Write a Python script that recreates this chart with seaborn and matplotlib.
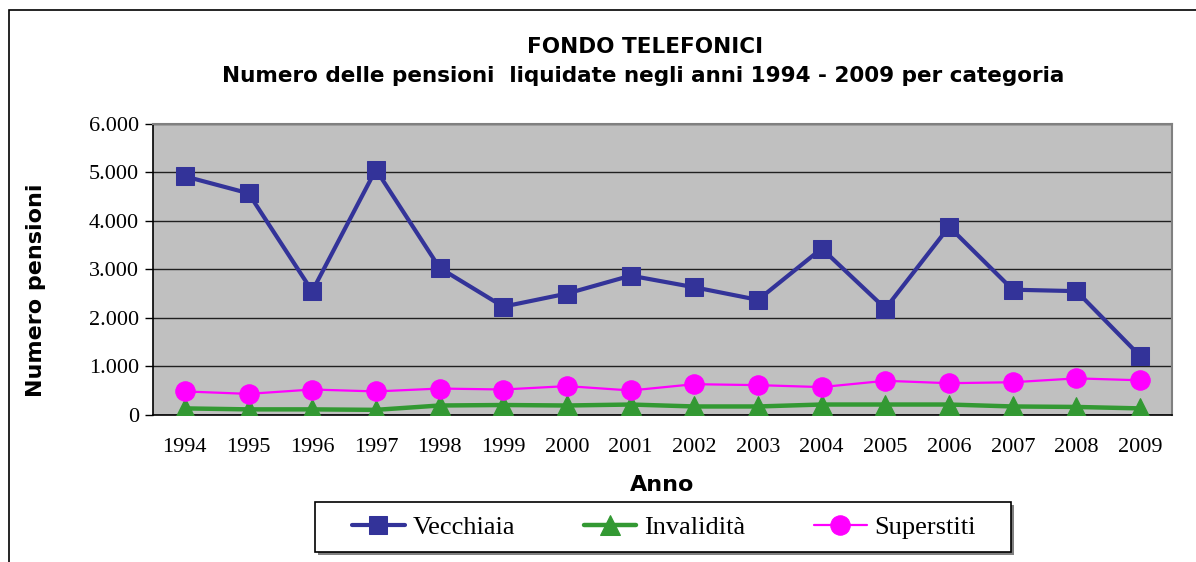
import numpy as np
import pandas as pd
import matplotlib
matplotlib.use("Agg")
import matplotlib.pyplot as plt
import seaborn as sns
from matplotlib.ticker import FuncFormatter, FixedLocator
from matplotlib.patches import Rectangle

# valori
anni = list(range(1994, 2010))
vecchiaia = [4920, 4570, 2550, 5060, 3030, 2230, 2500, 2870,
             2630, 2370, 3430, 2190, 3880, 2580, 2550, 1210]
invalidita = [130, 110, 110, 100, 190, 200, 190, 210,
              170, 170, 210, 210, 210, 170, 160, 130]
superstiti = [480, 430, 520, 480, 540, 520, 590, 500,
              630, 610, 570, 700, 650, 670, 750, 710]
serie = ["Vecchiaia", "Invalidità", "Superstiti"]
y_ticks = [0, 1000, 2000, 3000, 4000, 5000, 6000]

df = pd.DataFrame({
    "Anno": anni * 3,
    "valore": vecchiaia + invalidita + superstiti,
    "Categoria": [s for s in serie for _ in anni],
})

sns.set_theme(style="white")
plt.rcParams["font.family"] = ["DejaVu Sans"]
plt.rcParams["text.color"] = "black"
plt.rcParams["axes.labelcolor"] = "black"

W, H = 1196, 562
fig = plt.figure(figsize=(W / 100, H / 100), dpi=100)
ax = fig.add_axes([153 / W, 1 - 414.7 / H, (1172 - 153) / W, (414.7 - 124) / H])

stili = {
    "Vecchiaia": dict(color="#333399", marker="s", lw=3, ms=12.5),
    "Invalidità": dict(color="#339933", marker="^", lw=3.2, ms=14),
    "Superstiti": dict(color="#FF00FF", marker="o", lw=1.6, ms=14),
}
for s in serie:
    st = stili[s]
    sns.lineplot(data=df[df["Categoria"] == s], x="Anno", y="valore", ax=ax,
                 color=st["color"], marker=st["marker"], linewidth=st["lw"],
                 markersize=st["ms"], markeredgecolor=st["color"], label=s,
                 legend=False, zorder=3)

ax.set_facecolor("#C0C0C0")
ax.set_xlim(1993.5, 2009.5)
ax.set_ylim(0, 6000)
ax.set_yticks(y_ticks)
ax.yaxis.set_major_formatter(FuncFormatter(lambda v, p: f"{int(v):,}".replace(",", ".")))
ax.grid(axis="y", color="#202020", lw=1, zorder=1)
ax.set_axisbelow(True)

ax.set_xticks(anni)
ax.set_xticklabels([str(a) for a in anni])
ax.xaxis.set_minor_locator(FixedLocator(np.arange(1993.5, 2010, 1)))
ax.tick_params(axis="x", which="major", length=0, pad=17)
ax.tick_params(axis="x", which="minor", length=6, width=1, color="black", direction="out")
ax.tick_params(axis="y", length=6, width=1, color="black", direction="out", pad=4, left=True)
for lbl in ax.get_xticklabels() + ax.get_yticklabels():
    lbl.set_fontfamily("Liberation Serif")
    lbl.set_fontsize(16)
    lbl.set_color("black")

for side in ["left", "bottom"]:
    ax.spines[side].set_color("black")
    ax.spines[side].set_linewidth(1.2)
for side in ["top", "right"]:
    ax.spines[side].set_color("#808080")
    ax.spines[side].set_linewidth(1.5)

ax.set_xlabel("Anno", fontsize=16, fontweight="bold", labelpad=13)
ax.set_ylabel("")
fig.text(36 / W, 1 - 290 / H, "Numero pensioni", rotation=90, ha="center", va="center",
         fontsize=16, fontweight="bold")

fig.text(645 / W, 1 - 47 / H, "FONDO TELEFONICI", ha="center", va="center",
         fontsize=15.5, fontweight="bold")
fig.text(643 / W, 1 - 76 / H,
         "Numero delle pensioni  liquidate negli anni 1994 - 2009 per categoria",
         ha="center", va="center", fontsize=15.5, fontweight="bold")

# cornice esterna
fig.patches.append(Rectangle((8.5 / W, -0.1), 1.2, 1.1 - 10 / H,
                             transform=fig.transFigure, fill=False,
                             edgecolor="black", lw=1.2))

# riquadro della legenda (con ombra)
fig.patches.append(Rectangle((318 / W, 1 - 555 / H), (1011 - 315) / W, 50 / H,
                             transform=fig.transFigure, facecolor="#808080",
                             edgecolor="none", zorder=1))
fig.patches.append(Rectangle((315 / W, 1 - 552 / H), (1011 - 315) / W, 50 / H,
                             transform=fig.transFigure, facecolor="white",
                             edgecolor="black", lw=1.2, zorder=2))

handles, labels = ax.get_legend_handles_labels()
leg = fig.legend(handles, labels, loc="center", ncol=3,
                 bbox_to_anchor=(664 / W, 1 - 527 / H),
                 prop={"family": "Liberation Serif", "size": 19},
                 frameon=False, handlelength=2.0, columnspacing=2.6,
                 handletextpad=0.3, borderpad=0.35, borderaxespad=0)
leg.set_zorder(5)

fig.savefig("out.png", dpi=100)
